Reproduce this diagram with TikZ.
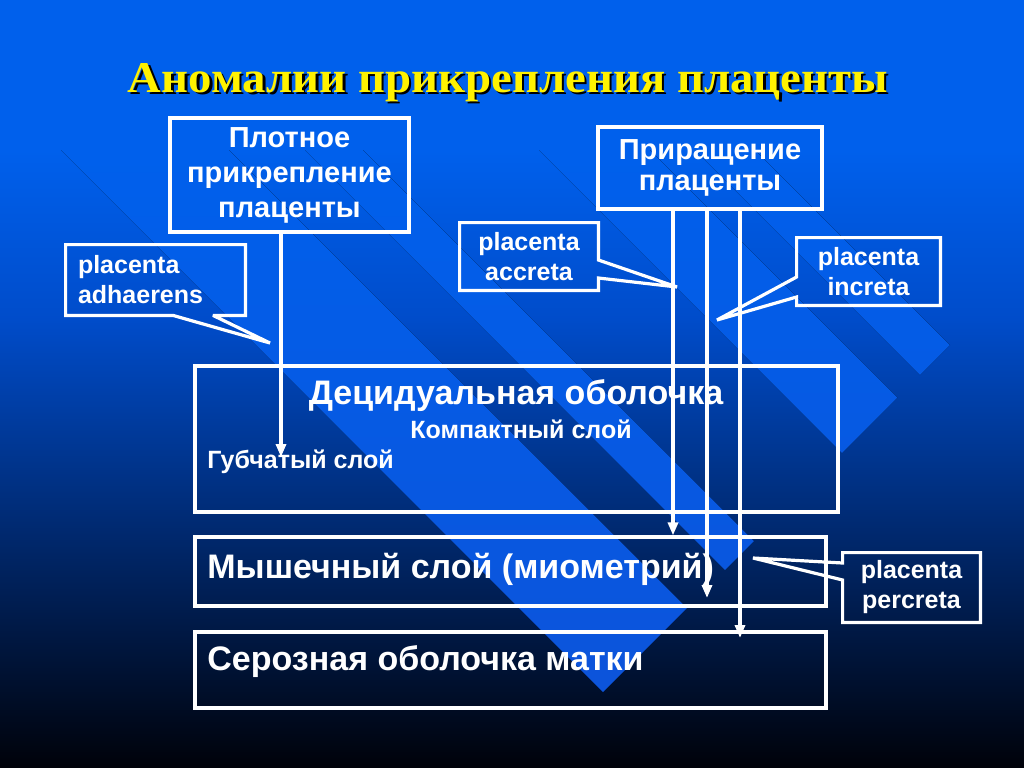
\documentclass[tikz,border=0pt]{standalone}
\usepackage{graphicx}
\usepackage{fontspec}
\setmainfont{Liberation Sans}
\newfontfamily\titlefont{Liberation Serif}
\usetikzlibrary{calc,arrows.meta}
\definecolor{bgtop}{RGB}{0,96,236}
\definecolor{bgmid}{RGB}{0,76,202}
\definecolor{bgbot}{RGB}{0,2,10}
\definecolor{bandtop}{RGB}{0,97,237}
\definecolor{bandbot}{RGB}{14,82,216}
\begin{document}
\begin{tikzpicture}[x=0.5pt, y=-0.5pt,
	frame/.style={draw=white, line width=1.6pt, text=white, align=center, font=\bfseries\fontsize{14.5}{17.5}\selectfont},
	layerbox/.style={draw=white, line width=1.6pt},
	layertext/.style={text=white, inner sep=0pt, font=\bfseries\fontsize{17}{20}\selectfont},
	smalltext/.style={text=white, inner sep=0pt, font=\bfseries\fontsize{12.5}{15}\selectfont},
	calltext/.style={text=white, align=center, font=\bfseries\fontsize{12.5}{15}\selectfont},
	callline/.style={draw=white, line width=1.6pt, miter limit=2},
	ptr/.style={draw=white, line width=1.6pt, -{Triangle[width=5pt,length=6.5pt]}}]
	\useasboundingbox (0,0) rectangle (1024,767);
	\fill[bgtop] (0,0) rectangle (1024,151);
	\fill[top color=bgtop, bottom color=bgmid] (0,150) rectangle (1024,320);
	\fill[top color=bgmid, bottom color=bgbot] (0,319) rectangle (1024,767);
	
	\begin{scope}
		\clip (755,150) -- (950,345) -- (920,375) -- (695,150) -- cycle
		(650,150) -- (897.5,397.5) -- (842,453) -- (539,150) -- cycle
		(363,150) -- (754,541) -- (725,570) -- (305,150) -- cycle
		(229,150) -- (687,608) -- (603,692) -- (61,150) -- cycle;
		\fill[top color=bgtop, bottom color=bandbot] (0,150) rectangle (1024,767);
	\end{scope}
	
	\node[anchor=base, text=black] (titleshadow) at (510.5,94.5) {\resizebox{380pt}{14.5pt}{\titlefont\bfseries Аномалии прикрепления плаценты}};
	\node[anchor=base, text=yellow] (title) at (508,92) {\resizebox{380pt}{14.5pt}{\titlefont\bfseries Аномалии прикрепления плаценты}};
	
	\node[frame, minimum width=119.5pt, minimum height=57pt] (dense) at (289.5,175) {Плотное\\прикрепление\\плаценты};
	\node[frame, font=\bfseries\fontsize{14.5}{15.5}\selectfont, minimum width=112pt, minimum height=41pt] (accr) at (710,168) {Приращение\\плаценты};
	
	\node[layerbox, minimum width=321.5pt, minimum height=73pt] (dec) at (516.5,439) {};
	\node[layerbox, minimum width=315.5pt, minimum height=34.5pt] (myo) at (510.5,571.5) {};
	\node[layerbox, minimum width=315.5pt, minimum height=38pt] (ser) at (510.5,670) {};
	
	\node[layertext, anchor=base] (dectext) at (516,404) {Децидуальная оболочка};
	\node[smalltext, anchor=base] (compact) at (521,438) {Компактный слой};
	\node[smalltext, anchor=base west] (spongy) at (207,468) {Губчатый слой};
	\node[layertext, anchor=base west] (myotext) at (207,578) {Мышечный слой (миометрий)};
	\node[layertext, anchor=base west] (sertext) at (207,670) {Серозная оболочка матки};
	
	\node[calltext, align=left, text width=77.5pt, inner xsep=6pt, minimum height=35pt] (adh) at (155.5,280) {placenta\\adhaerens};
	\node[calltext, minimum width=69pt, minimum height=33.5pt] (acc) at (529,256.5) {placenta\\accreta};
	\node[calltext, minimum width=71.5pt, minimum height=33.5pt] (inc) at (868.5,271.5) {placenta\\increta};
	\node[calltext, minimum width=68.5pt, minimum height=34.5pt] (per) at (911.5,587.5) {placenta\\percreta};
	
	\coordinate (adhtip) at (270,343);
	\coordinate (acctip) at (677,287);
	\coordinate (inctip) at (717,320);
	\coordinate (pertip) at (753,558);
	
	\draw[callline] (adh.south west) -- (adh.north west) -- (adh.north east) -- (adh.south east) -- (213,0 |- adh.south) -- (adhtip) -- (173,0 |- adh.south) -- cycle;
	\draw[callline] (acc.north west) -- (acc.north east) -- (acc.east |- 0,260) -- (acctip) -- (acc.east |- 0,278) -- (acc.south east) -- (acc.south west) -- cycle;
	\draw[callline] (inc.north west) -- (inc.north east) -- (inc.south east) -- (inc.south west) -- (inc.west |- 0,297) -- (inctip) -- (inc.west |- 0,277) -- cycle;
	\draw[callline] (per.north west) -- (per.north east) -- (per.south east) -- (per.south west) -- (per.west |- 0,580) -- (pertip) -- (per.west |- 0,563) -- cycle;
	
	\coordinate (spongyend) at (281,457);
	\coordinate (myoend) at (707,598);
	\coordinate (serend) at (740,638);
	\draw[ptr] (281,0 |- dense.south) -- (spongyend);
	\draw[ptr] (673,0 |- accr.south) -- (673,0 |- myo.north);
	\draw[ptr] (707,0 |- accr.south) -- (myoend);
	\draw[ptr] (740,0 |- accr.south) -- (serend);
\end{tikzpicture}
\end{document}
